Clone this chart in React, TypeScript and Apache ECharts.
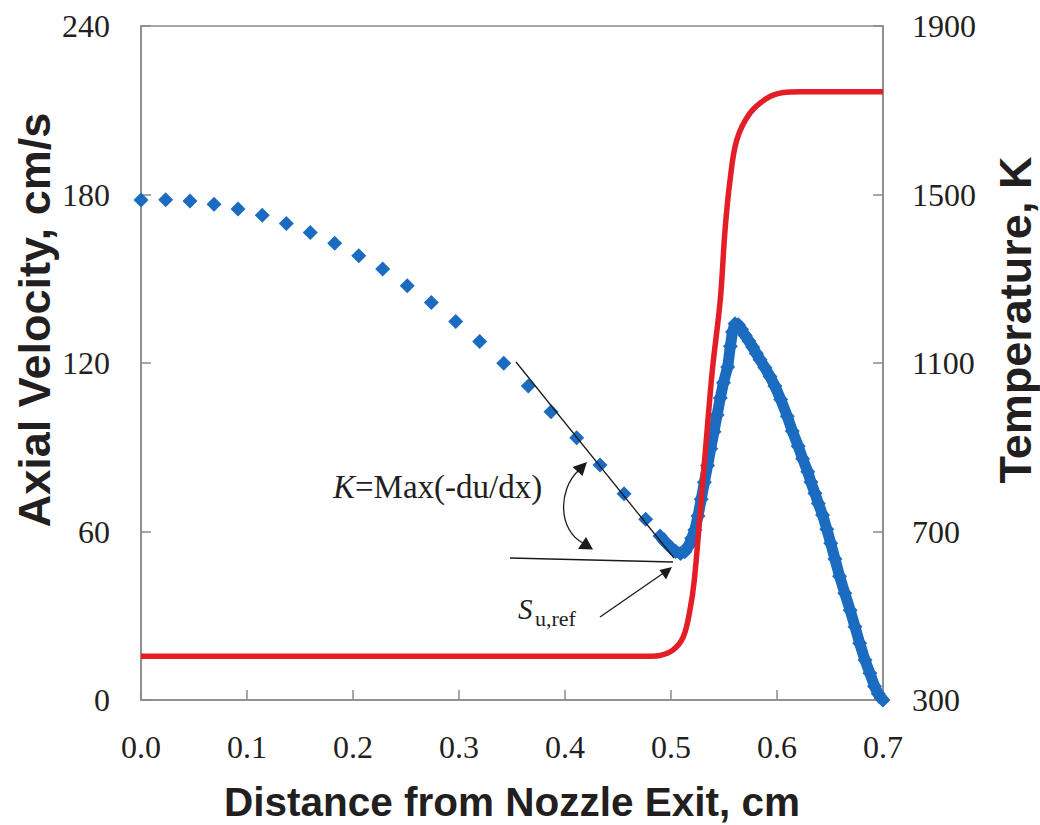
import React, { useEffect, useRef } from 'react';
import * as echarts from 'echarts';

// ---- Data ----
// Axial velocity, sparse grid region (cm, cm/s)
const distSparse = [0, 0.0233, 0.0462, 0.0689, 0.0915, 0.1144, 0.1371, 0.1597, 0.1827, 0.2054, 0.228, 0.2512, 0.2739, 0.2969, 0.3195, 0.3422, 0.3654, 0.3868, 0.411, 0.433, 0.4557, 0.4761];
const velSparse = [178.0, 178.1, 177.7, 176.5, 174.8, 172.6, 169.7, 166.5, 162.6, 158.2, 153.5, 147.5, 141.5, 134.8, 127.7, 119.9, 111.8, 102.6, 93.4, 83.7, 73.4, 64.4];

// Axial velocity, refined grid region near the flame (cm, cm/s)
const distDense = [0.4896, 0.4945, 0.4995, 0.5045, 0.509, 0.513, 0.5165, 0.5195, 0.5225, 0.5255, 0.5285, 0.5315, 0.5345, 0.5375, 0.5405, 0.5435, 0.5465, 0.5495, 0.5535, 0.556, 0.558, 0.5604, 0.5635, 0.5665, 0.57, 0.5735, 0.577, 0.5805, 0.584, 0.5885, 0.5934, 0.598, 0.6035, 0.6097, 0.6144, 0.62, 0.6242, 0.629, 0.632, 0.6358, 0.639, 0.643, 0.647, 0.6507, 0.6547, 0.659, 0.664, 0.669, 0.6736, 0.678, 0.683, 0.6877, 0.692, 0.6955, 0.6985, 0.7];
const velDense = [58.4, 56.3, 54.4, 52.9, 52.2, 52.8, 54.8, 57.6, 60.5, 65.5, 71.5, 77.5, 83.5, 89.5, 95.5, 101.5, 107.5, 113, 118.6, 126, 131, 134, 133.6, 132, 129.8, 127.8, 125.7, 123.4, 121.2, 118.4, 115.2, 111.8, 107.0, 101.0, 95.8, 90.4, 85.9, 81.3, 77.6, 73.6, 70.0, 65.9, 60.8, 55.8, 50.2, 44.1, 38.0, 32.0, 26.1, 20.2, 14.2, 9.5, 4.9, 2.2, 0.6, 0];

// Temperature (cm, K)
const distT = [0, 0.48, 0.49, 0.502, 0.5116, 0.5179, 0.522, 0.5277, 0.5333, 0.539, 0.5465, 0.551, 0.5557, 0.562, 0.5745, 0.5903, 0.606, 0.622, 0.7];
const tempK = [404, 404, 406, 419, 450, 514, 585, 750, 917, 1083, 1250, 1416, 1534, 1629, 1693, 1728, 1742, 1744, 1744];

// Axes
const xRange = [0, 0.7, 0.1];
const velRange = [0, 240, 60];
const tempRange = [300, 1900, 400];

const xName = 'Distance from Nozzle Exit, cm';
const velName = 'Axial Velocity, cm/s';
const tempName = 'Temperature, K';

const BLUE = '#1b6cc0';
const RED = '#e41e26';
const AXIS = '#8a8a8a';
const INK = '#231f20';
const SERIF = '"Liberation Serif", "Times New Roman", serif';
const SANS = '"Liberation Sans", Arial, sans-serif';

const zip = (a: number[], b: number[]) => a.map((v, i) => [v, b[i]]);

export default function App() {
  const ref = useRef<HTMLDivElement>(null);
  useEffect(() => {
    if (!ref.current) return;
    const chart = echarts.init(ref.current, undefined, { renderer: 'svg' });
    const axisLine = { show: true, lineStyle: { color: AXIS, width: 1.5 } };
    const axisTick = { show: true, inside: true, length: 10, lineStyle: { color: AXIS, width: 1.5 } };
    const labelBase = { fontFamily: SERIF, fontSize: 32, color: INK };
    const ann = '#1a1a1a';
    chart.setOption({
      animation: false,
      grid: { left: 141, right: 157, top: 26, bottom: 125, show: true, borderColor: AXIS, borderWidth: 1.5, backgroundColor: 'transparent' },
      xAxis: {
        type: 'value', min: xRange[0], max: xRange[1], interval: xRange[2],
        axisLine, axisTick, splitLine: { show: false },
        axisLabel: { ...labelBase, margin: 31, formatter: (v: number) => v.toFixed(1) },
      },
      yAxis: [
        {
          type: 'value', position: 'left', min: velRange[0], max: velRange[1], interval: velRange[2],
          axisLine, axisTick, splitLine: { show: false },
          axisLabel: { ...labelBase, margin: 31, formatter: (v: number) => String(v) },
        },
        {
          type: 'value', position: 'right', min: tempRange[0], max: tempRange[1], interval: tempRange[2],
          axisLine, axisTick, splitLine: { show: false },
          axisLabel: { ...labelBase, margin: 29, formatter: (v: number) => String(v) },
        },
      ],
      series: [
        {
          type: 'scatter', name: 'u sparse', yAxisIndex: 0, data: zip(distSparse, velSparse),
          symbol: 'diamond', symbolSize: 15, itemStyle: { color: BLUE, opacity: 1 }, z: 2,
        },
        {
          type: 'line', name: 'u dense', yAxisIndex: 0, data: zip(distDense, velDense),
          symbol: 'diamond', symbolSize: 15, showSymbol: true, itemStyle: { color: BLUE, opacity: 1 },
          lineStyle: { color: BLUE, width: 11 }, z: 2,
        },
        {
          type: 'line', name: 'T', yAxisIndex: 1, data: zip(distT, tempK),
          symbol: 'none', smooth: 0.35, lineStyle: { color: RED, width: 5.5 }, z: 3,
        },
      ],
      graphic: [
        { type: 'text', x: 34, y: 320, rotation: Math.PI / 2, style: { text: velName, fontFamily: SANS, fontWeight: 'bold', fontSize: 45, fill: INK, align: 'center', verticalAlign: 'middle' } },
        { type: 'text', x: 1015, y: 320, rotation: Math.PI / 2, style: { text: tempName, fontFamily: SANS, fontWeight: 'bold', fontSize: 45, fill: INK, align: 'center', verticalAlign: 'middle' } },
        { type: 'text', x: 512, y: 802, style: { text: xName, fontFamily: SANS, fontWeight: 'bold', fontSize: 40.5, fill: INK, align: 'center', verticalAlign: 'middle' } },
        // tangent line and reference horizontal line
        { type: 'line', z: 10, shape: { x1: 516, y1: 362, x2: 674, y2: 558 }, style: { stroke: ann, lineWidth: 1.3 } },
        { type: 'line', z: 10, shape: { x1: 510, y1: 558, x2: 673, y2: 562 }, style: { stroke: ann, lineWidth: 1.3 } },
        // curved double arrow
        { type: 'bezierCurve', z: 10, shape: { x1: 578, y1: 471, cpx1: 558, cpy1: 490, cpx2: 558, cpy2: 530, x2: 583, y2: 543 }, style: { stroke: ann, lineWidth: 1.3, fill: 'none' } },
        { type: 'polygon', z: 10, shape: { points: [[587, 462], [572.5, 467], [582.5, 476]] }, style: { fill: ann } },
        { type: 'polygon', z: 10, shape: { points: [[593, 549.5], [578, 549], [586, 537]] }, style: { fill: ann } },
        // S_u,ref arrow
        { type: 'line', z: 10, shape: { x1: 600, y1: 617, x2: 665, y2: 572 }, style: { stroke: ann, lineWidth: 1.3 } },
        { type: 'polygon', z: 10, shape: { points: [[672, 567], [659.5, 570], [666, 579.5]] }, style: { fill: ann } },
        // annotation texts
        {
          type: 'text', z: 10, x: 333, y: 487,
          style: {
            text: '{k|K}=Max(-du/dx)', fontFamily: SERIF, fontSize: 33, fill: INK, align: 'left', verticalAlign: 'middle',
            rich: { k: { fontFamily: SERIF, fontStyle: 'italic', fontSize: 33, fill: INK } },
          },
        },
        { type: 'text', z: 10, x: 518, y: 609, style: { text: 'S', fontFamily: SERIF, fontStyle: 'italic', fontSize: 29, fill: INK, align: 'left', verticalAlign: 'middle' } },
        { type: 'text', z: 10, x: 535, y: 618, style: { text: 'u,ref', fontFamily: SERIF, fontSize: 22, fill: INK, align: 'left', verticalAlign: 'middle' } },
      ],
    });
    return () => chart.dispose();
  }, []);
  return <div ref={ref} style={{ position: 'fixed', left: 0, top: 0, width: 1040, height: 825, background: '#fff' }} />;
}
